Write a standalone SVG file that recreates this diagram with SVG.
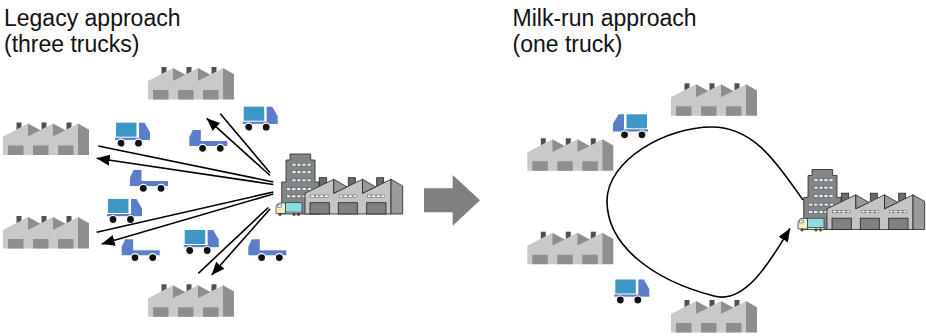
<svg xmlns="http://www.w3.org/2000/svg" xmlns:xlink="http://www.w3.org/1999/xlink" width="926" height="336" viewBox="0 0 926 336">
  <style>
    .title { font-family: "Liberation Sans", Arial, Helvetica, sans-serif; font-size: 23px; fill: #111; }
    .f-light { fill: #c9c9cb; }
    .f-dark { fill: #8e8e91; }
    .f-chim { fill: #505050; }
    .t-box { fill: #3f97c6; }
    .t-cab { fill: #5a7ec9; }
    .t-wheel { fill: #111; stroke: #fff; stroke-width: 1.2; }
    .link { fill: none; stroke: #000; stroke-width: 1.6; }
    .p-line { stroke: #222; stroke-width: 0.8; }
  </style>
  <defs>
    <marker id="head" markerUnits="userSpaceOnUse" markerWidth="13" markerHeight="11" viewBox="0 0 13 11" refX="13" refY="5.5" orient="auto">
      <path d="M0,0 L13,5.5 L0,11 z" fill="#000"/>
    </marker>

    <!-- supplier factory: 86 x 33 -->
    <g id="supplier">
      <rect class="f-chim" x="13.5" y="0" width="5" height="8"/>
      <rect class="f-chim" x="38.5" y="0" width="5" height="8"/>
      <rect class="f-chim" x="63.5" y="0" width="5" height="8"/>
      <polygon class="f-light" points="0,14 25,1 25,14 50,1 50,14 75,1 75,32.5 0,32.5"/>
      <polygon class="f-dark" points="25,1 37.5,7.8 25,14"/>
      <polygon class="f-dark" points="50,1 62.5,7.8 50,14"/>
      <polygon class="f-dark" points="75,1 86,7.3 86,32.5 75,32.5"/>
      <rect class="f-dark" x="5" y="23" width="15.5" height="9.5"/>
      <rect class="f-dark" x="30" y="23" width="15.5" height="9.5"/>
      <rect class="f-dark" x="55" y="23" width="15.5" height="9.5"/>
    </g>

    <!-- loaded truck, cab on the right: 36 x 25 -->
    <g id="truck-loaded">
      <rect class="t-box" x="2" y="0" width="20.5" height="14"/>
      <polygon class="t-cab" points="25,0 30.5,0 36,9.5 36,16.5 25,16.5"/>
      <rect class="t-cab" x="1" y="15" width="35" height="2.2"/>
      <circle class="t-wheel" cx="7" cy="20.5" r="4"/>
      <circle class="t-wheel" cx="24.5" cy="20.5" r="4"/>
    </g>

    <!-- empty truck, cab on the left: 38 x 23 -->
    <g id="truck-empty">
      <polygon class="t-cab" points="0,16 0,7.5 3.5,0 11.5,0 11.5,16"/>
      <rect class="t-cab" x="11" y="11" width="27" height="5"/>
      <circle class="t-wheel" cx="13.3" cy="18.3" r="4"/>
      <circle class="t-wheel" cx="31" cy="18.3" r="4"/>
    </g>

    <!-- assembly plant: office tower, sawtooth hall and delivery van -->
    <g id="plant">
      <polygon points="290,154 310.7,154 310.7,160 315,160 315,182 319.3,182 319.3,214 281.7,214 281.7,182 286,182 286,160 290,160" fill="#858585" class="p-line"/>
      <g fill="#d6f0f8" stroke="#555" stroke-width="0.5">
        <rect x="292" y="163.3" width="4" height="2.8"/><rect x="297" y="163.3" width="4" height="2.8"/><rect x="302" y="163.3" width="4" height="2.8"/><rect x="307" y="163.3" width="4" height="2.8"/>
        <rect x="292" y="170.7" width="4" height="2.8"/><rect x="297" y="170.7" width="4" height="2.8"/><rect x="302" y="170.7" width="4" height="2.8"/><rect x="307" y="170.7" width="4" height="2.8"/>
        <rect x="292" y="179" width="4" height="2.8"/><rect x="297" y="179" width="4" height="2.8"/><rect x="302" y="179" width="4" height="2.8"/><rect x="307" y="179" width="4" height="2.8"/>
        <rect x="286.5" y="187.7" width="4.2" height="2.8"/><rect x="291.7" y="187.7" width="4.2" height="2.8"/><rect x="296.9" y="187.7" width="4.2" height="2.8"/><rect x="302.1" y="187.7" width="4.2" height="2.8"/><rect x="307.3" y="187.7" width="4.2" height="2.8"/>
        <rect x="286.5" y="195" width="4.2" height="2.8"/><rect x="291.7" y="195" width="4.2" height="2.8"/><rect x="296.9" y="195" width="4.2" height="2.8"/><rect x="302.1" y="195" width="4.2" height="2.8"/>
      </g>
      <g fill="#6b6b6b" class="p-line">
        <rect x="319.3" y="177.7" width="7.4" height="10"/>
        <rect x="348.3" y="177.7" width="7" height="10"/>
        <rect x="376.7" y="177.7" width="7" height="10"/>
      </g>
      <polygon points="305,193.3 333.8,179.3 333.8,193.3 362.5,179.3 362.5,193.3 391,179.3 391,214 305,214" fill="#c4c4c4" class="p-line"/>
      <g fill="#9a9a9a" class="p-line">
        <polygon points="333.8,179.3 347,186.9 333.8,193.3"/>
        <polygon points="362.5,179.3 375.7,186.9 362.5,193.3"/>
        <polygon points="391,179.3 402.7,186 402.7,214 391,214"/>
      </g>
      <g fill="#fff" stroke="#555" stroke-width="0.5">
        <rect x="310.7" y="195" width="3.6" height="2.3"/><rect x="315.3" y="195" width="3.6" height="2.3"/><rect x="319.9" y="195" width="3.6" height="2.3"/><rect x="324.5" y="195" width="3.6" height="2.3"/>
        <rect x="339.3" y="195" width="3.6" height="2.3"/><rect x="343.9" y="195" width="3.6" height="2.3"/><rect x="348.5" y="195" width="3.6" height="2.3"/><rect x="353.1" y="195" width="3.6" height="2.3"/>
        <rect x="367.3" y="195" width="3.6" height="2.3"/><rect x="371.9" y="195" width="3.6" height="2.3"/><rect x="376.5" y="195" width="3.6" height="2.3"/><rect x="381.1" y="195" width="3.6" height="2.3"/>
      </g>
      <g fill="#808080" class="p-line">
        <rect x="310" y="202.7" width="19.3" height="11.3"/>
        <rect x="338.3" y="202.7" width="19" height="11.3"/>
        <rect x="366.7" y="202.7" width="19.3" height="11.3"/>
      </g>
      <polygon points="276,213.5 276,206 278.5,203 285.5,203 285.5,213.5" fill="#f3efc5" stroke="#333" stroke-width="0.7"/>
      <rect x="277.5" y="204.5" width="4" height="3" fill="#cfeef5" stroke="#333" stroke-width="0.4"/>
      <rect x="285.5" y="202.7" width="16.5" height="9.5" fill="#8adbe6" stroke="#333" stroke-width="0.7"/>
      <rect x="285.5" y="212.2" width="16.5" height="1.5" fill="#f3efc5" stroke="#333" stroke-width="0.5"/>
      <circle cx="280" cy="214.3" r="1.6" fill="#444"/>
      <circle cx="294" cy="214.3" r="1.6" fill="#444"/>
      <circle cx="298.5" cy="214.3" r="1.6" fill="#444"/>
    </g>
  </defs>

  <!-- titles -->
  <text class="title" x="4" y="26">Legacy approach</text>
  <text class="title" x="4" y="51.7">(three trucks)</text>
  <text class="title" x="512.5" y="26">Milk-run approach</text>
  <text class="title" x="512.5" y="51.7">(one truck)</text>

  <!-- legacy side: suppliers -->
  <g id="supplier-top"><use href="#supplier" x="148" y="67"/></g>
  <g id="supplier-left-1"><use href="#supplier" x="3" y="122.5"/></g>
  <g id="supplier-left-2"><use href="#supplier" x="3" y="216"/></g>
  <g id="supplier-bottom"><use href="#supplier" x="148" y="284.3"/></g>

  <!-- legacy side: trucks -->
  <g id="trucks-legacy">
    <use href="#truck-loaded" x="114" y="122.7"/>
    <use href="#truck-loaded" x="241.7" y="106.7"/>
    <use href="#truck-empty" x="189.3" y="130"/>
    <use href="#truck-empty" x="130" y="170"/>
    <use href="#truck-loaded" x="106" y="199"/>
    <use href="#truck-empty" x="121.7" y="239.3"/>
    <use href="#truck-loaded" x="182.7" y="230"/>
    <use href="#truck-empty" x="248.3" y="239.3"/>
  </g>

  <g id="plant-legacy"><use href="#plant"/></g>

  <!-- legacy side: separate runs -->
  <g id="links-legacy">
    <line class="link" x1="270" y1="172.7" x2="220.3" y2="113.8"/>
    <line class="link" x1="270" y1="175.5" x2="206.7" y2="118.3" marker-end="url(#head)"/>
    <line class="link" x1="273.3" y1="182" x2="98.3" y2="146"/>
    <line class="link" x1="273.3" y1="184.5" x2="96.7" y2="158.3" marker-end="url(#head)"/>
    <line class="link" x1="273.3" y1="192" x2="96.7" y2="232.3"/>
    <line class="link" x1="273.3" y1="194" x2="101.7" y2="244" marker-end="url(#head)"/>
    <line class="link" x1="268.3" y1="207.5" x2="198.3" y2="273.3"/>
    <line class="link" x1="270" y1="209" x2="211.7" y2="275" marker-end="url(#head)"/>
  </g>

  <!-- transition arrow -->
  <g id="transition">
    <polygon points="424,188.3 452.7,188.3 452.7,175 480,200.3 452.7,225.7 452.7,212.3 424,212.3" fill="#7f7f7f"/>
  </g>

  <!-- milk-run side: suppliers -->
  <g id="supplier-mr-top"><use href="#supplier" x="671" y="83.3"/></g>
  <g id="supplier-mr-left-1"><use href="#supplier" x="527.3" y="138.3"/></g>
  <g id="supplier-mr-left-2"><use href="#supplier" x="527.3" y="231.7"/></g>
  <g id="supplier-mr-bottom"><use href="#supplier" x="671" y="300"/></g>

  <!-- milk-run side: trucks -->
  <g id="trucks-milkrun">
    <use href="#truck-loaded" transform="translate(649,114.3) scale(-1,1)"/>
    <use href="#truck-loaded" x="613.3" y="279.5"/>
  </g>

  <g id="plant-milkrun"><use href="#plant" transform="translate(522,15.5)"/></g>

  <!-- milk-run side: single loop -->
  <g id="links-milkrun">
    <path class="link" d="M803,200 C780,168 756,127 712,127 C666,127 607,160 607,201 C607,245 652,280 714,296 C746,305 772,258 790,228.5" marker-end="url(#head)"/>
  </g>
</svg>
